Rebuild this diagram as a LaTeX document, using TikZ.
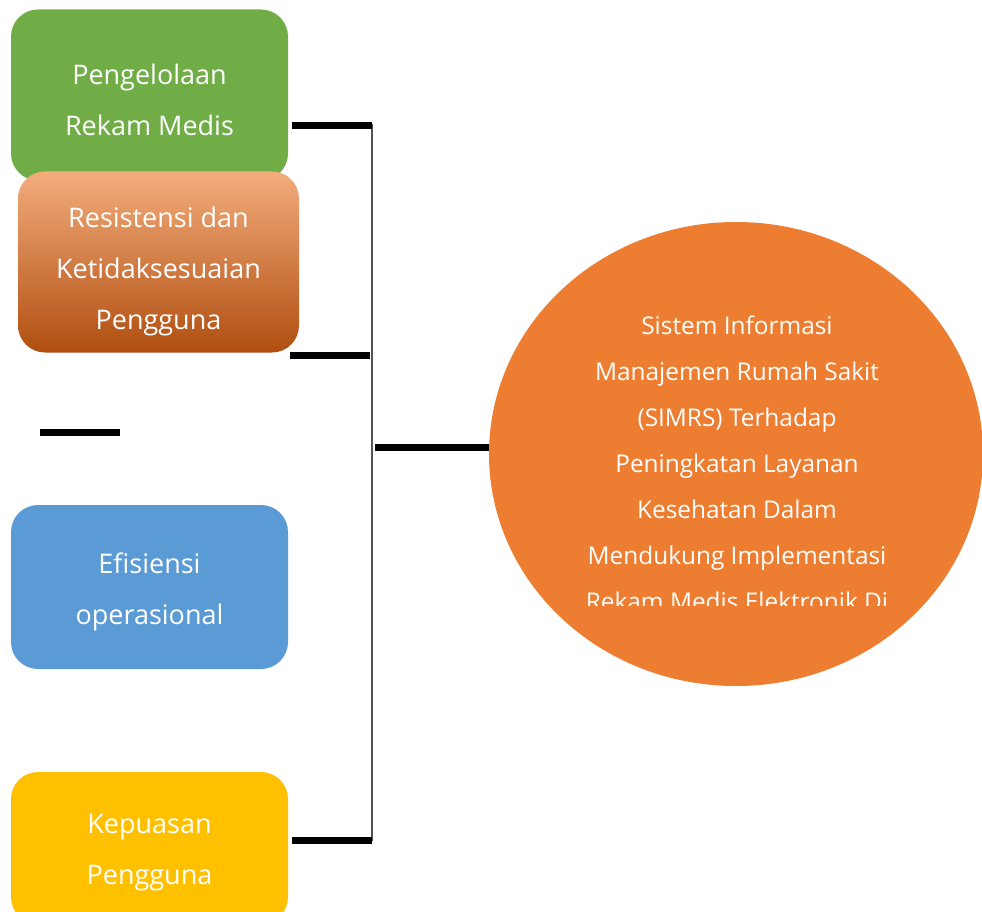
\documentclass[tikz,border=0pt]{standalone}
\usepackage{fontspec}
\setmainfont{Open Sans}
\usetikzlibrary{positioning,shapes.geometric}

\definecolor{hijau}{HTML}{70AD47}
\definecolor{oranye}{HTML}{ED7D31}
\definecolor{oranyemuda}{HTML}{F3AD7C}
\definecolor{oranyetua}{HTML}{B04E10}
\definecolor{biru}{HTML}{5B9BD5}
\definecolor{kuning}{HTML}{FFC000}
\definecolor{abu}{HTML}{555555}

\tikzset{
  kotak/.style={rectangle, rounded corners=27pt, minimum width=277pt, minimum height=171pt, inner sep=0pt},
  teks/.style={text=white, align=center, inner sep=0pt, font=\fontsize{27}{51}\selectfont},
  garis/.style={line width=7pt},
  tulang/.style={line width=2pt, draw=abu},
}

\begin{document}
\begin{tikzpicture}[x=1pt,y=-1pt]
	\clip (0,0) rectangle (982,912);
	\fill[white] (0,0) rectangle (982,912);
	
	\node[kotak, fill=hijau] (rekam) at (149.5,95) {};
	\node[teks] (rekam-t) at ([yshift=-5pt]rekam.center) {Pengelolaan\\Rekam Medis};
	\node[kotak, minimum width=281pt, minimum height=181pt, top color=oranyemuda, middle color=oranye, bottom color=oranyetua] (resistensi) at (158.5,262) {};
	\node[teks] (resistensi-t) at ([yshift=-9pt]resistensi.center) {Resistensi dan\\Ketidaksesuaian\\Pengguna};
	\node[kotak, fill=biru, minimum height=164pt] (efisiensi) at (149.5,587) {};
	\node[teks] (efisiensi-t) at ([yshift=-5pt]efisiensi.center) {Efisiensi\\operasional};
	\node[kotak, fill=kuning, minimum height=152pt] (kepuasan) at (149.5,848) {};
	\node[teks] (kepuasan-t) at ([yshift=-5pt]kepuasan.center) {Kepuasan\\Pengguna};
	
	\node[ellipse, fill=oranye, minimum width=494pt, minimum height=464pt] (simrs) at (736,454) {};
	\begin{scope}
	\clip (489,200) rectangle (982,605);
	\node[teks, font=\fontsize{24.4}{46}\selectfont] (judul) at (737,463)
	  {Sistem Informasi\\Manajemen Rumah Sakit\\(SIMRS) Terhadap\\Peningkatan Layanan\\Kesehatan Dalam\\Mendukung Implementasi\\Rekam Medis Elektronik Di};
	\end{scope}
	
	\coordinate (a1) at (292,126);
	\coordinate (b1) at (372,126);
	\coordinate (a2) at (290,355);
	\coordinate (b2) at (370,355);
	\coordinate (a3) at (292,840);
	\coordinate (b3) at (372,840);
	\coordinate (tengah) at (375,447);
	\coordinate (lepas1) at (40,432);
	\coordinate (lepas2) at (120,432);
	
	\draw[tulang] (372,124) -- (372,841);
	\draw[garis] (a1) -- (b1);
	\draw[garis] (a2) -- (b2);
	\draw[garis] (a3) -- (b3);
	\draw[garis] (tengah) -- (tengah -| simrs.west);
	\draw[garis] (lepas1) -- (lepas2);
	
\end{tikzpicture}
\end{document}
